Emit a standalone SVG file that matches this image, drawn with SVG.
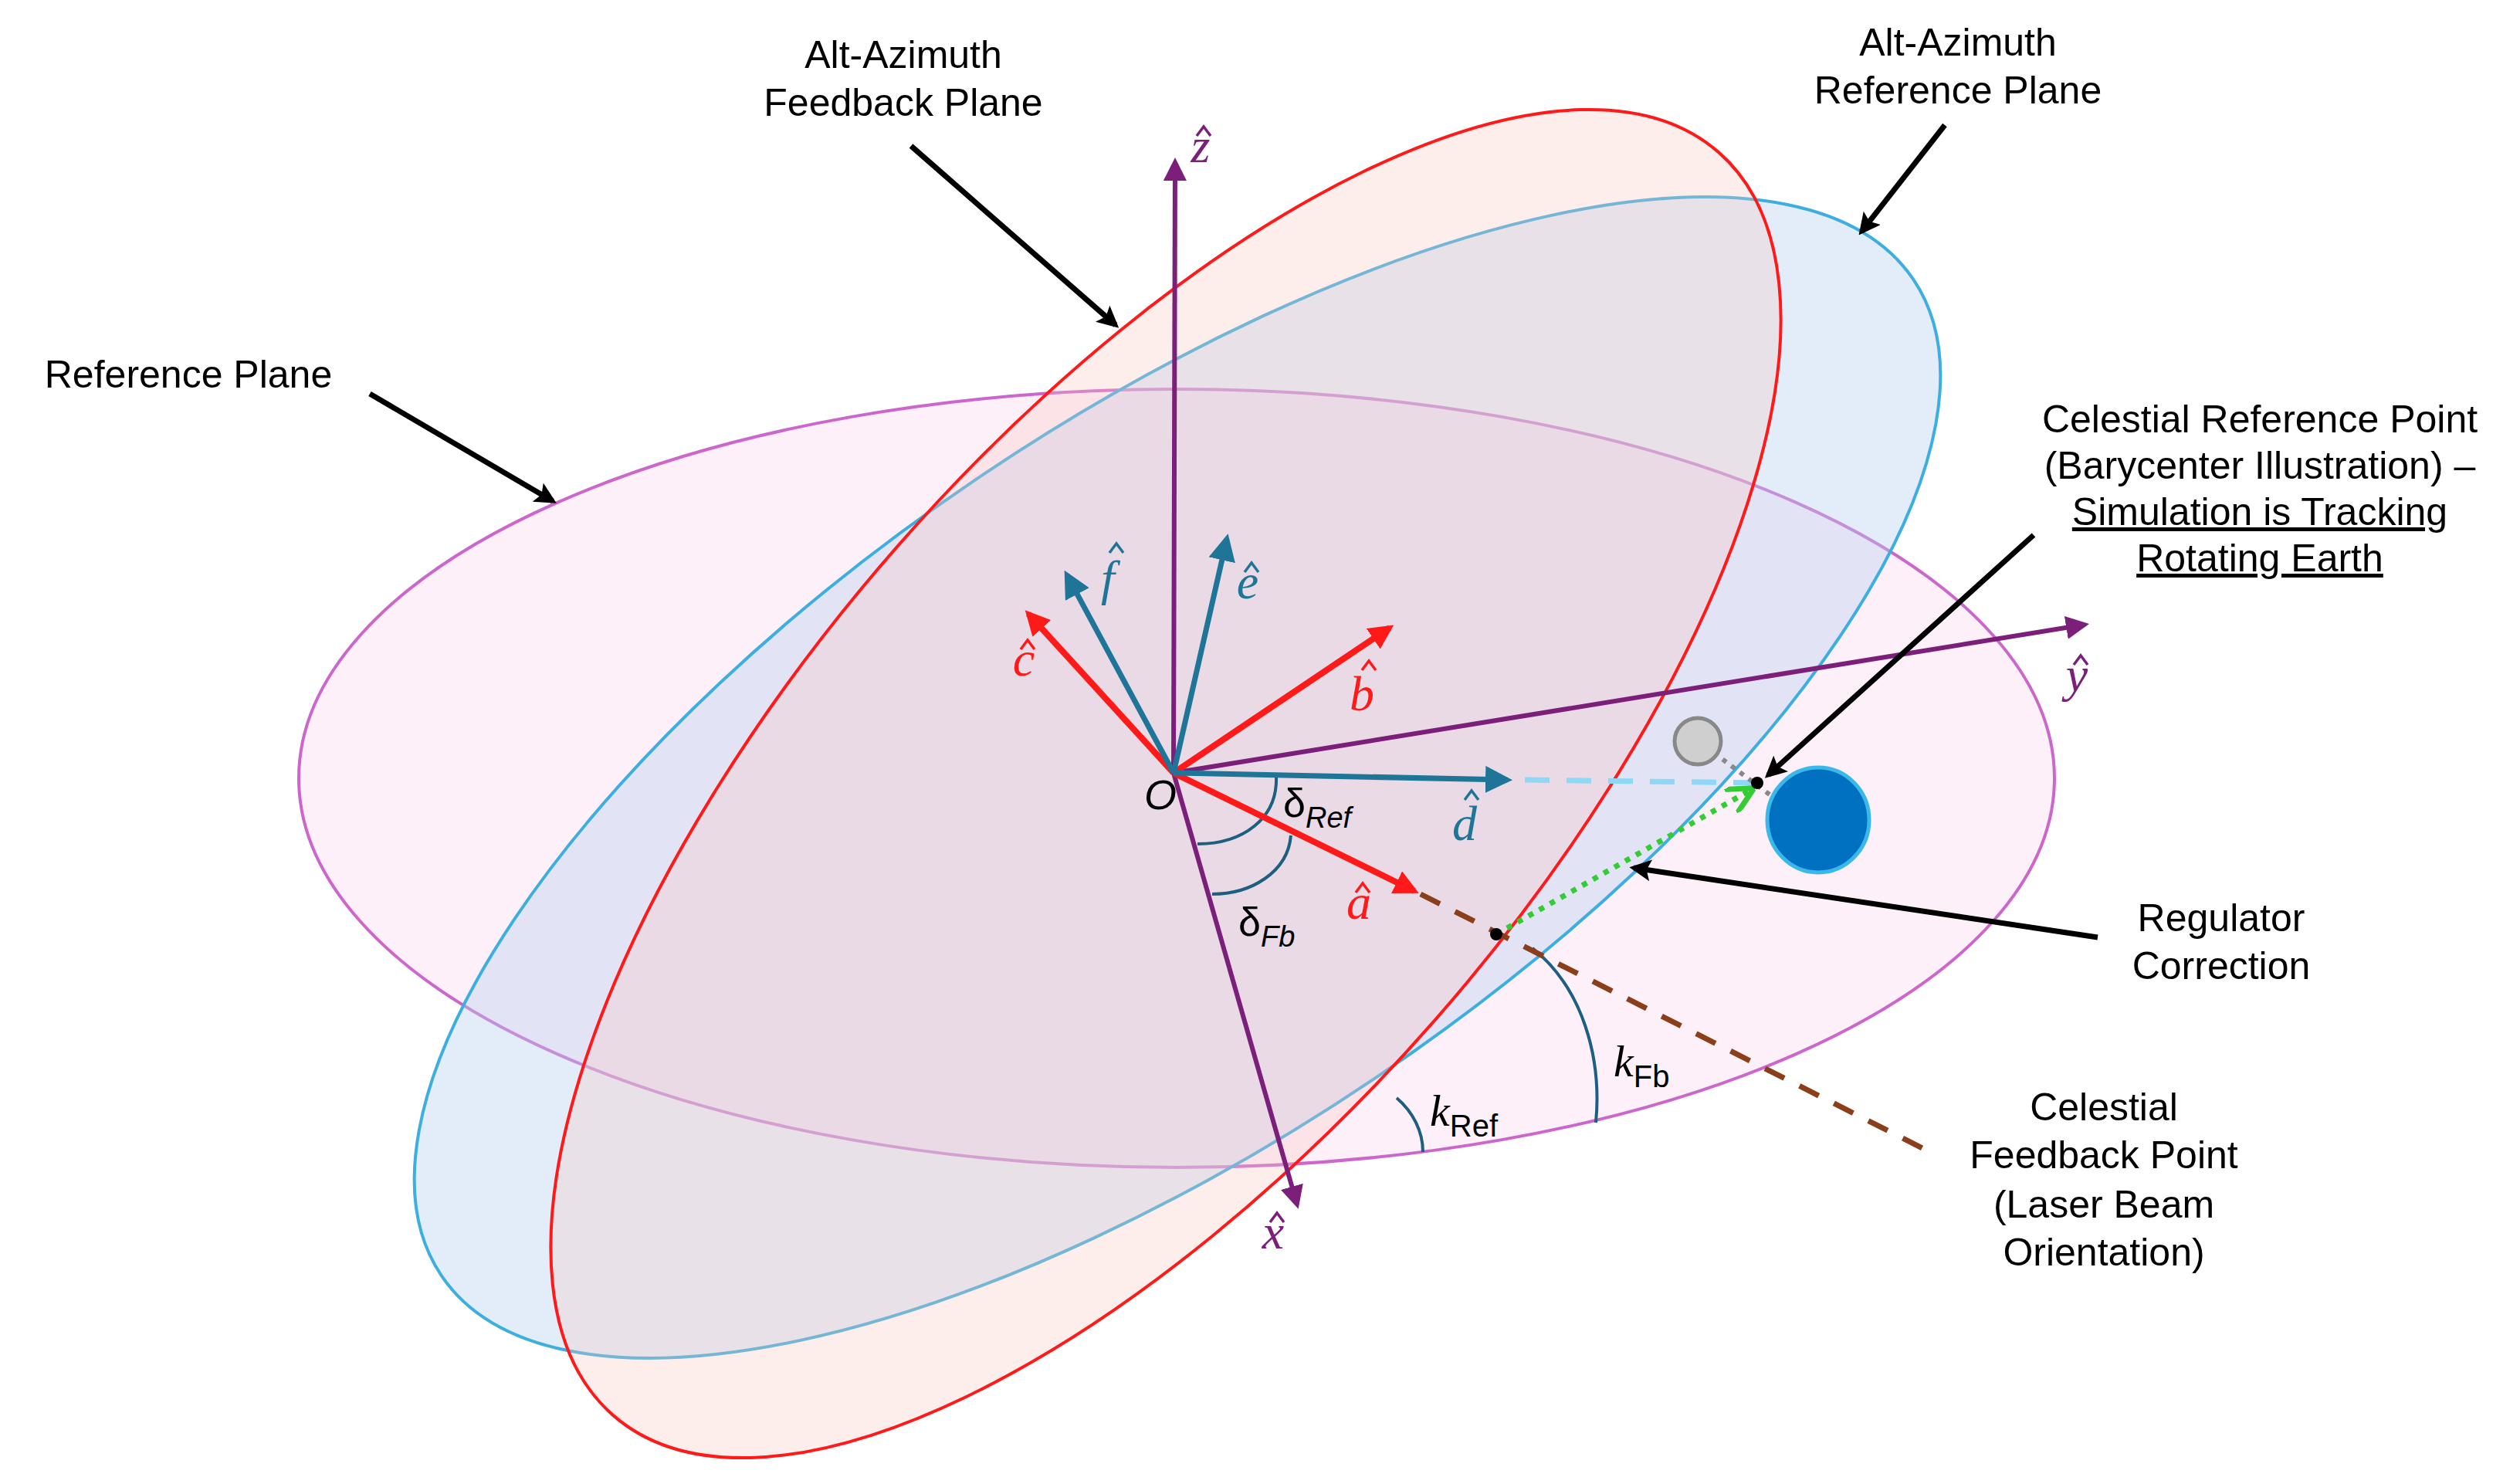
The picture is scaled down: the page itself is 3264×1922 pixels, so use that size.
<svg xmlns="http://www.w3.org/2000/svg" width="3264" height="1922" viewBox="0 0 3264 1922">
<defs>
<style>
.lbl{font-family:"Liberation Sans",Arial,sans-serif;font-size:50px;fill:#000;text-anchor:middle}
.vec{font-family:"Liberation Serif","DejaVu Serif",serif;font-style:italic;font-size:64px;text-anchor:middle}
.hat{fill:none;stroke-width:3.5}
.gk{font-family:"Liberation Sans",Arial,sans-serif;font-size:52px;fill:#000}
.arc{fill:none;stroke:#1d5f80;stroke-width:4}
.blk{stroke:#000;stroke-width:7;fill:none;marker-end:url(#mk)}
</style>
<marker id="mk" viewBox="0 0 10 10" refX="8" refY="5" markerWidth="4" markerHeight="4" orient="auto"><path d="M0,0L10,5L0,10L2,5z" fill="#000"/></marker>
<marker id="mp" viewBox="0 0 10 10" refX="8" refY="5" markerWidth="5" markerHeight="5" orient="auto"><path d="M0,0L10,5L0,10z" fill="#7b1f7b"/></marker>
<marker id="mr" viewBox="0 0 10 10" refX="8" refY="5" markerWidth="4" markerHeight="4" orient="auto"><path d="M0,0L10,5L0,10z" fill="#ff1a1a"/></marker>
<marker id="mt" viewBox="0 0 10 10" refX="8" refY="5" markerWidth="5" markerHeight="5" orient="auto"><path d="M0,0L10,5L0,10z" fill="#1e7598"/></marker>
<marker id="mg" viewBox="0 0 10 10" refX="8" refY="5" markerWidth="5" markerHeight="5" orient="auto"><path d="M0,0L10,5L0,10" fill="none" stroke="#33cc33" stroke-width="2"/></marker>
</defs>
<rect width="3264" height="1922" fill="#fff"/>
<g id="planes">
<ellipse id="reference-plane" cx="1524" cy="1008" rx="1137" ry="504" fill="#fbe6f3" fill-opacity="0.6" stroke="#cc66cc" stroke-width="4"/>
<ellipse id="altaz-reference-plane" cx="1525" cy="1007" rx="1151" ry="466" transform="rotate(-34.1 1525 1007)" fill="#b9cff0" fill-opacity="0.4" stroke="#3daee0" stroke-width="4"/>
<ellipse id="altaz-feedback-plane" cx="1510" cy="1015" rx="1087" ry="464" transform="rotate(-48.8 1510 1015)" fill="#f8c8c0" fill-opacity="0.3" stroke="#ff1a1a" stroke-width="4"/>
</g>
<g id="connectors">
<path class="arc" d="M1653,1006 C1655,1060 1610,1093 1551,1093"/>
<path class="arc" d="M1672,1082 C1668,1130 1620,1158 1570,1158"/>
<path class="arc" d="M1985,1228 C2050,1280 2075,1370 2067,1454"/>
<path class="arc" d="M1809,1422 C1830,1440 1843,1465 1843,1492"/>
<line x1="1840" y1="1158" x2="2490" y2="1487" stroke="#8b3e1a" stroke-width="7" stroke-dasharray="28,22"/>
<line x1="1975" y1="1010" x2="2276" y2="1014" stroke="#8fd8f5" stroke-width="7" stroke-dasharray="32,22"/>
<line x1="2220" y1="975" x2="2300" y2="1035" stroke="#888" stroke-width="6" stroke-dasharray="6,8"/>
<line x1="1938" y1="1210" x2="2266" y2="1024" stroke="#33cc33" stroke-width="7" stroke-dasharray="7,9" marker-end="url(#mg)"/>
<line x1="1520" y1="1001" x2="1522" y2="210" stroke="#7b1f7b" stroke-width="6" marker-end="url(#mp)"/>
<line x1="1520" y1="1001" x2="2700" y2="809" stroke="#7b1f7b" stroke-width="6" marker-end="url(#mp)"/>
<line x1="1520" y1="1001" x2="1680" y2="1560" stroke="#7b1f7b" stroke-width="6" marker-end="url(#mp)"/>
<line x1="1520" y1="1001" x2="1332" y2="795" stroke="#ff1a1a" stroke-width="8" marker-end="url(#mr)"/>
<line x1="1520" y1="1001" x2="1800" y2="813" stroke="#ff1a1a" stroke-width="8" marker-end="url(#mr)"/>
<line x1="1520" y1="1001" x2="1832" y2="1154" stroke="#ff1a1a" stroke-width="8" marker-end="url(#mr)"/>
<line x1="1520" y1="1001" x2="1382" y2="745" stroke="#1e7598" stroke-width="7" marker-end="url(#mt)"/>
<line x1="1520" y1="1001" x2="1589" y2="698" stroke="#1e7598" stroke-width="7" marker-end="url(#mt)"/>
<line x1="1520" y1="1001" x2="1952" y2="1010" stroke="#1e7598" stroke-width="7" marker-end="url(#mt)"/>
<line class="blk" x1="1180" y1="189" x2="1445" y2="421"/>
<line class="blk" x1="2519" y1="162" x2="2411" y2="300"/>
<line class="blk" x1="479" y1="510" x2="716" y2="649"/>
<line class="blk" x1="2634" y1="693" x2="2290" y2="1004"/>
<line class="blk" x1="2717" y1="1214" x2="2116" y2="1124"/>
</g>
<g id="bodies">
<circle id="moon" cx="2199" cy="960" r="30" fill="#cfcfcf" stroke="#888" stroke-width="5"/>
<ellipse id="earth" cx="2355" cy="1062" rx="66" ry="68" fill="#0070c0" stroke="#3ab8ec" stroke-width="5"/>
<circle cx="2276" cy="1014" r="8" fill="#000"/>
<circle cx="1938" cy="1210" r="8" fill="#000"/>
</g>
<g id="vector-labels">
<g fill="#7b1f7b" stroke="#7b1f7b">
<text class="vec" x="1555" y="210" stroke="none">z</text><path class="hat" d="M1550,176 l9,-12 l9,12"/>
<text class="vec" x="2690" y="895" stroke="none">y</text><path class="hat" d="M2686,861 l9,-12 l9,12"/>
<text class="vec" x="1649" y="1617" stroke="none">x</text><path class="hat" d="M1645,1583 l9,-12 l9,12"/>
</g>
<g fill="#ff1a1a" stroke="#ff1a1a">
<text class="vec" x="1326" y="875" stroke="none">c</text><path class="hat" d="M1322,841 l9,-12 l9,12"/>
<text class="vec" x="1764" y="920" stroke="none">b</text><path class="hat" d="M1764,868 l9,-12 l9,12"/>
<text class="vec" x="1760" y="1190" stroke="none">a</text><path class="hat" d="M1756,1156 l9,-12 l9,12"/>
</g>
<g fill="#1e7598" stroke="#1e7598">
<text class="vec" x="1435" y="770" stroke="none">f</text><path class="hat" d="M1437,716 l9,-12 l9,12"/>
<text class="vec" x="1616" y="775" stroke="none">e</text><path class="hat" d="M1612,741 l9,-12 l9,12"/>
<text class="vec" x="1897" y="1088" stroke="none">d</text><path class="hat" d="M1897,1036 l9,-12 l9,12"/>
</g>
<text x="1482" y="1048" style="font-family:'Liberation Sans',Arial,sans-serif;font-style:italic;font-size:54px">O</text>
<text class="gk" x="1662" y="1058">δ<tspan font-size="38" font-style="italic" dy="14">Ref</tspan></text>
<text class="gk" x="1604" y="1212">δ<tspan font-size="38" font-style="italic" dy="14">Fb</tspan></text>
<text x="2090" y="1394" style="font-family:'Liberation Serif',serif;font-style:italic;font-size:58px">k<tspan font-style="normal" font-family="Liberation Sans" font-size="40" dy="14">Fb</tspan></text>
<text x="1852" y="1458" style="font-family:'Liberation Serif',serif;font-style:italic;font-size:58px">k<tspan font-style="normal" font-family="Liberation Sans" font-size="40" dy="14">Ref</tspan></text>
</g>
<g id="text-labels">
<text class="lbl" x="1170" y="88">Alt-Azimuth</text>
<text class="lbl" x="1170" y="150">Feedback Plane</text>
<text class="lbl" x="2536" y="72">Alt-Azimuth</text>
<text class="lbl" x="2536" y="134">Reference Plane</text>
<text class="lbl" x="244" y="502">Reference Plane</text>
<text class="lbl" x="2927" y="560">Celestial Reference Point</text>
<text class="lbl" x="2927" y="620">(Barycenter Illustration) –</text>
<text class="lbl" x="2927" y="680" text-decoration="underline">Simulation is Tracking</text>
<text class="lbl" x="2927" y="740" text-decoration="underline">Rotating Earth</text>
<text class="lbl" x="2877" y="1206">Regulator</text>
<text class="lbl" x="2877" y="1268">Correction</text>
<text class="lbl" x="2725" y="1451">Celestial</text>
<text class="lbl" x="2725" y="1513">Feedback Point</text>
<text class="lbl" x="2725" y="1577">(Laser Beam</text>
<text class="lbl" x="2725" y="1639">Orientation)</text>
</g>
</svg>
